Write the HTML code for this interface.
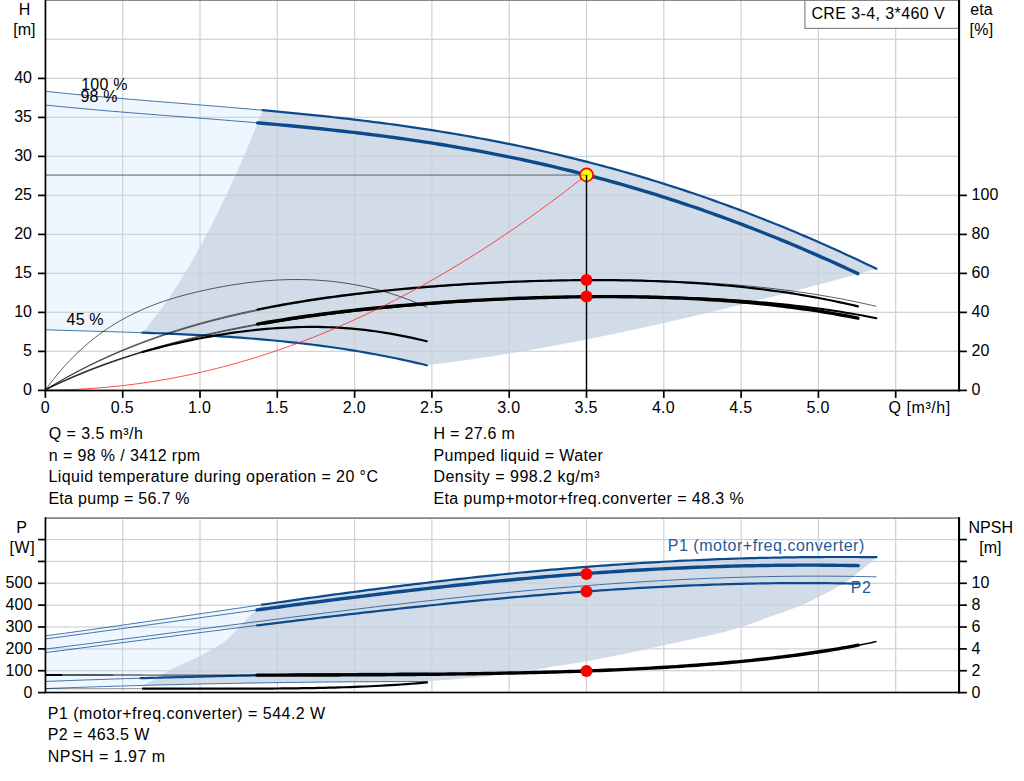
<!DOCTYPE html>
<html><head><meta charset="utf-8"><title>Pump curve</title>
<style>
html,body{margin:0;padding:0;background:#fff;}
body{width:1024px;height:781px;overflow:hidden;font-family:"Liberation Sans",sans-serif;}
svg{display:block;}
svg text{font-family:"Liberation Sans",sans-serif;}
</style></head><body>
<svg width="1024" height="781" viewBox="0 0 1024 781">
<rect width="1024" height="781" fill="#fff"/>
<path d="M45 91.26 L50.18 91.81 L55.37 92.35 L60.55 92.88 L65.73 93.41 L70.92 93.92 L76.1 94.42 L81.28 94.92 L86.47 95.4 L91.65 95.88 L96.83 96.35 L102.02 96.82 L107.2 97.28 L112.38 97.73 L117.57 98.18 L122.75 98.62 L127.93 99.06 L133.12 99.49 L138.3 99.93 L143.48 100.35 L148.67 100.78 L153.85 101.2 L159.03 101.62 L164.22 102.04 L169.4 102.46 L174.58 102.87 L179.77 103.29 L184.95 103.71 L190.13 104.12 L195.32 104.54 L200.5 104.96 L205.68 105.38 L210.87 105.8 L216.05 106.23 L221.23 106.65 L226.42 107.08 L231.6 107.52 L236.78 107.96 L241.97 108.4 L247.15 108.84 L252.33 109.29 L257.52 109.75 L262.7 110.21 L262.7 110.21 L258.55 120.61 L254.4 130.83 L250.26 140.84 L246.11 150.67 L241.96 160.3 L237.81 169.73 L233.66 178.97 L229.51 188.02 L225.37 196.87 L221.22 205.52 L217.07 213.99 L212.92 222.25 L208.77 230.32 L204.62 238.2 L200.48 245.87 L196.33 253.36 L192.18 260.64 L188.03 267.73 L183.88 274.63 L179.73 281.32 L175.59 287.83 L171.44 294.13 L167.29 300.23 L163.14 306.14 L158.99 311.85 L154.84 317.37 L150.7 322.68 L146.55 327.8 L142.4 332.71 L142.4 332.71 L136.99 332.53 L131.58 332.35 L126.17 332.18 L120.76 332.01 L115.34 331.85 L109.93 331.69 L104.52 331.53 L99.11 331.37 L93.7 331.22 L88.29 331.06 L82.88 330.91 L77.47 330.76 L72.06 330.6 L66.64 330.45 L61.23 330.29 L55.82 330.13 L50.41 329.96 L45 329.8 Z" fill="#eef6ff"/>
<path d="M262.7 110.21 L267.77 110.66 L272.84 111.13 L277.92 111.6 L282.99 112.07 L288.06 112.55 L293.13 113.04 L298.2 113.54 L303.28 114.04 L308.35 114.55 L313.42 115.07 L318.49 115.6 L323.56 116.13 L328.63 116.68 L333.71 117.24 L338.78 117.8 L343.85 118.37 L348.92 118.96 L353.99 119.55 L359.07 120.16 L364.14 120.77 L369.21 121.4 L374.28 122.04 L379.35 122.69 L384.43 123.35 L389.5 124.03 L394.57 124.71 L399.64 125.41 L404.71 126.12 L409.79 126.85 L414.86 127.59 L419.93 128.34 L425 129.1 L430.07 129.88 L435.14 130.68 L440.22 131.48 L445.29 132.3 L450.36 133.14 L455.43 133.99 L460.5 134.86 L465.58 135.74 L470.65 136.64 L475.72 137.55 L480.79 138.48 L485.86 139.42 L490.94 140.38 L496.01 141.35 L501.08 142.35 L506.15 143.36 L511.22 144.38 L516.3 145.43 L521.37 146.49 L526.44 147.56 L531.51 148.66 L536.58 149.77 L541.65 150.9 L546.73 152.05 L551.8 153.21 L556.87 154.4 L561.94 155.6 L567.01 156.82 L572.09 158.06 L577.16 159.31 L582.23 160.59 L587.3 161.89 L592.37 163.2 L597.45 164.53 L602.52 165.88 L607.59 167.25 L612.66 168.64 L617.73 170.05 L622.8 171.48 L627.88 172.93 L632.95 174.4 L638.02 175.89 L643.09 177.39 L648.16 178.92 L653.24 180.47 L658.31 182.04 L663.38 183.62 L668.45 185.23 L673.52 186.86 L678.6 188.51 L683.67 190.17 L688.74 191.86 L693.81 193.57 L698.88 195.3 L703.96 197.05 L709.03 198.82 L714.1 200.61 L719.17 202.42 L724.24 204.25 L729.31 206.11 L734.39 207.98 L739.46 209.87 L744.53 211.79 L749.6 213.72 L754.67 215.68 L759.75 217.66 L764.82 219.65 L769.89 221.67 L774.96 223.71 L780.03 225.77 L785.11 227.85 L790.18 229.95 L795.25 232.07 L800.32 234.21 L805.39 236.37 L810.47 238.56 L815.54 240.76 L820.61 242.98 L825.68 245.23 L830.75 247.49 L835.82 249.78 L840.9 252.08 L845.97 254.41 L851.04 256.75 L856.11 259.12 L861.18 261.5 L866.26 263.91 L871.33 266.33 L876.4 268.78 L876.4 268.78 L867.22 271.53 L858.04 274.04 L848.87 276.53 L839.69 279.01 L830.51 281.47 L821.33 283.92 L812.16 286.36 L802.98 288.78 L793.8 291.19 L784.62 293.57 L775.45 295.94 L766.27 298.29 L757.09 300.63 L747.91 302.94 L738.74 305.23 L729.56 307.5 L720.38 309.75 L711.2 311.97 L702.03 314.17 L692.85 316.35 L683.67 318.5 L674.49 320.62 L665.32 322.72 L656.14 324.78 L646.96 326.83 L637.78 328.84 L628.61 330.82 L619.43 332.77 L610.25 334.69 L601.07 336.57 L591.9 338.43 L582.72 340.24 L573.54 342.03 L564.36 343.78 L555.19 345.49 L546.01 347.17 L536.83 348.81 L527.65 350.41 L518.48 351.97 L509.3 353.49 L500.12 354.97 L490.94 356.41 L481.77 357.8 L472.59 359.15 L463.41 360.46 L454.23 361.73 L445.06 362.95 L435.88 364.12 L426.7 365.29 L426.7 365.29 L421.53 364.04 L416.36 362.83 L411.19 361.65 L406.02 360.5 L400.85 359.38 L395.69 358.29 L390.52 357.23 L385.35 356.21 L380.18 355.21 L375.01 354.24 L369.84 353.31 L364.67 352.39 L359.5 351.51 L354.33 350.66 L349.16 349.83 L343.99 349.03 L338.83 348.25 L333.66 347.5 L328.49 346.77 L323.32 346.07 L318.15 345.39 L312.98 344.74 L307.81 344.1 L302.64 343.49 L297.47 342.9 L292.3 342.33 L287.13 341.79 L281.97 341.26 L276.8 340.75 L271.63 340.26 L266.46 339.79 L261.29 339.34 L256.12 338.9 L250.95 338.49 L245.78 338.08 L240.61 337.7 L235.44 337.33 L230.27 336.97 L225.11 336.63 L219.94 336.3 L214.77 335.99 L209.6 335.69 L204.43 335.4 L199.26 335.12 L194.09 334.86 L188.92 334.6 L183.75 334.36 L178.58 334.12 L173.41 333.9 L168.25 333.68 L163.08 333.47 L157.91 333.27 L152.74 333.08 L147.57 332.89 L142.4 332.71 L142.4 332.71 L146.55 327.8 L150.7 322.68 L154.84 317.37 L158.99 311.85 L163.14 306.14 L167.29 300.23 L171.44 294.13 L175.59 287.83 L179.73 281.32 L183.88 274.63 L188.03 267.73 L192.18 260.64 L196.33 253.36 L200.48 245.87 L204.62 238.2 L208.77 230.32 L212.92 222.25 L217.07 213.99 L221.22 205.52 L225.37 196.87 L229.51 188.02 L233.66 178.97 L237.81 169.73 L241.96 160.3 L246.11 150.67 L250.26 140.84 L254.4 130.83 L258.55 120.61 L262.7 110.21 Z" fill="#d1dce8"/>
<rect x="46" y="350.7" width="912" height="1.2" fill="#ced1d4"/>
<rect x="46" y="311.7" width="912" height="1.2" fill="#ced1d4"/>
<rect x="46" y="272.7" width="912" height="1.2" fill="#ced1d4"/>
<rect x="46" y="233.7" width="912" height="1.2" fill="#ced1d4"/>
<rect x="46" y="194.7" width="912" height="1.2" fill="#ced1d4"/>
<rect x="46" y="155.7" width="912" height="1.2" fill="#ced1d4"/>
<rect x="46" y="116.7" width="912" height="1.2" fill="#ced1d4"/>
<rect x="46" y="77.7" width="912" height="1.2" fill="#ced1d4"/>
<rect x="46" y="38.7" width="912" height="1.2" fill="#ced1d4"/>
<rect x="122.1" y="1" width="1.2" height="388.5" fill="#ced1d4"/>
<rect x="199.4" y="1" width="1.2" height="388.5" fill="#ced1d4"/>
<rect x="276.7" y="1" width="1.2" height="388.5" fill="#ced1d4"/>
<rect x="354" y="1" width="1.2" height="388.5" fill="#ced1d4"/>
<rect x="431.3" y="1" width="1.2" height="388.5" fill="#ced1d4"/>
<rect x="508.6" y="1" width="1.2" height="388.5" fill="#ced1d4"/>
<rect x="585.9" y="1" width="1.2" height="388.5" fill="#ced1d4"/>
<rect x="663.2" y="1" width="1.2" height="388.5" fill="#ced1d4"/>
<rect x="740.5" y="1" width="1.2" height="388.5" fill="#ced1d4"/>
<rect x="817.8" y="1" width="1.2" height="388.5" fill="#ced1d4"/>
<rect x="895.1" y="1" width="1.2" height="388.5" fill="#ced1d4"/>
<rect x="45" y="0" width="915" height="1" fill="#8a8a8a"/>
<rect x="46" y="174.3" width="540" height="1.6" fill="#6f6f6f" opacity="0.7"/>
<rect x="585.8" y="175" width="1.4" height="215" fill="#000"/>
<path d="M45 91.26 L50.18 91.81 L55.37 92.35 L60.55 92.88 L65.73 93.41 L70.92 93.92 L76.1 94.42 L81.28 94.92 L86.47 95.4 L91.65 95.88 L96.83 96.35 L102.02 96.82 L107.2 97.28 L112.38 97.73 L117.57 98.18 L122.75 98.62 L127.93 99.06 L133.12 99.49 L138.3 99.93 L143.48 100.35 L148.67 100.78 L153.85 101.2 L159.03 101.62 L164.22 102.04 L169.4 102.46 L174.58 102.87 L179.77 103.29 L184.95 103.71 L190.13 104.12 L195.32 104.54 L200.5 104.96 L205.68 105.38 L210.87 105.8 L216.05 106.23 L221.23 106.65 L226.42 107.08 L231.6 107.52 L236.78 107.96 L241.97 108.4 L247.15 108.84 L252.33 109.29 L257.52 109.75 L262.7 110.21" fill="none" stroke="#0c4a8b" stroke-width="1" stroke-opacity="0.75"/>
<path d="M45 104.98 L50.19 105.52 L55.37 106.05 L60.56 106.57 L65.74 107.07 L70.93 107.57 L76.11 108.06 L81.3 108.54 L86.48 109.01 L91.67 109.48 L96.85 109.93 L102.04 110.38 L107.22 110.83 L112.41 111.27 L117.6 111.7 L122.78 112.12 L127.97 112.55 L133.15 112.96 L138.34 113.38 L143.52 113.79 L148.71 114.2 L153.89 114.6 L159.08 115.01 L164.26 115.41 L169.45 115.81 L174.63 116.21 L179.82 116.61 L185 117.01 L190.19 117.41 L195.38 117.82 L200.56 118.22 L205.75 118.62 L210.93 119.03 L216.12 119.44 L221.3 119.85 L226.49 120.27 L231.67 120.69 L236.86 121.11 L242.04 121.54 L247.23 121.97 L252.41 122.41 L257.6 122.85" fill="none" stroke="#0c4a8b" stroke-width="1" stroke-opacity="0.75"/>
<path d="M45 329.8 L50.41 329.96 L55.82 330.13 L61.23 330.29 L66.64 330.45 L72.06 330.6 L77.47 330.76 L82.88 330.91 L88.29 331.06 L93.7 331.22 L99.11 331.37 L104.52 331.53 L109.93 331.69 L115.34 331.85 L120.76 332.01 L126.17 332.18 L131.58 332.35 L136.99 332.53 L142.4 332.71" fill="none" stroke="#0c4a8b" stroke-width="1" stroke-opacity="0.75"/>
<path d="M262.7 110.21 L267.77 110.66 L272.84 111.13 L277.92 111.6 L282.99 112.07 L288.06 112.55 L293.13 113.04 L298.2 113.54 L303.28 114.04 L308.35 114.55 L313.42 115.07 L318.49 115.6 L323.56 116.13 L328.63 116.68 L333.71 117.24 L338.78 117.8 L343.85 118.37 L348.92 118.96 L353.99 119.55 L359.07 120.16 L364.14 120.77 L369.21 121.4 L374.28 122.04 L379.35 122.69 L384.43 123.35 L389.5 124.03 L394.57 124.71 L399.64 125.41 L404.71 126.12 L409.79 126.85 L414.86 127.59 L419.93 128.34 L425 129.1 L430.07 129.88 L435.14 130.68 L440.22 131.48 L445.29 132.3 L450.36 133.14 L455.43 133.99 L460.5 134.86 L465.58 135.74 L470.65 136.64 L475.72 137.55 L480.79 138.48 L485.86 139.42 L490.94 140.38 L496.01 141.35 L501.08 142.35 L506.15 143.36 L511.22 144.38 L516.3 145.43 L521.37 146.49 L526.44 147.56 L531.51 148.66 L536.58 149.77 L541.65 150.9 L546.73 152.05 L551.8 153.21 L556.87 154.4 L561.94 155.6 L567.01 156.82 L572.09 158.06 L577.16 159.31 L582.23 160.59 L587.3 161.89 L592.37 163.2 L597.45 164.53 L602.52 165.88 L607.59 167.25 L612.66 168.64 L617.73 170.05 L622.8 171.48 L627.88 172.93 L632.95 174.4 L638.02 175.89 L643.09 177.39 L648.16 178.92 L653.24 180.47 L658.31 182.04 L663.38 183.62 L668.45 185.23 L673.52 186.86 L678.6 188.51 L683.67 190.17 L688.74 191.86 L693.81 193.57 L698.88 195.3 L703.96 197.05 L709.03 198.82 L714.1 200.61 L719.17 202.42 L724.24 204.25 L729.31 206.11 L734.39 207.98 L739.46 209.87 L744.53 211.79 L749.6 213.72 L754.67 215.68 L759.75 217.66 L764.82 219.65 L769.89 221.67 L774.96 223.71 L780.03 225.77 L785.11 227.85 L790.18 229.95 L795.25 232.07 L800.32 234.21 L805.39 236.37 L810.47 238.56 L815.54 240.76 L820.61 242.98 L825.68 245.23 L830.75 247.49 L835.82 249.78 L840.9 252.08 L845.97 254.41 L851.04 256.75 L856.11 259.12 L861.18 261.5 L866.26 263.91 L871.33 266.33 L876.4 268.78" fill="none" stroke="#0c4a8b" stroke-width="2.2" stroke-linecap="round"/>
<path d="M257.6 122.85 L262.64 123.29 L267.69 123.73 L272.73 124.18 L277.78 124.63 L282.82 125.09 L287.87 125.56 L292.91 126.03 L297.96 126.52 L303 127.01 L308.05 127.51 L313.09 128.02 L318.13 128.53 L323.18 129.06 L328.22 129.59 L333.27 130.14 L338.31 130.69 L343.36 131.26 L348.4 131.83 L353.45 132.42 L358.49 133.01 L363.54 133.62 L368.58 134.24 L373.62 134.87 L378.67 135.51 L383.71 136.17 L388.76 136.83 L393.8 137.51 L398.85 138.2 L403.89 138.91 L408.94 139.63 L413.98 140.36 L419.03 141.11 L424.07 141.87 L429.11 142.64 L434.16 143.43 L439.2 144.23 L444.25 145.05 L449.29 145.88 L454.34 146.73 L459.38 147.59 L464.43 148.47 L469.47 149.36 L474.52 150.27 L479.56 151.2 L484.6 152.14 L489.65 153.1 L494.69 154.07 L499.74 155.06 L504.78 156.07 L509.83 157.1 L514.87 158.14 L519.92 159.2 L524.96 160.27 L530.01 161.37 L535.05 162.48 L540.09 163.61 L545.14 164.76 L550.18 165.92 L555.23 167.11 L560.27 168.31 L565.32 169.53 L570.36 170.77 L575.41 172.02 L580.45 173.3 L585.49 174.59 L590.54 175.91 L595.58 177.24 L600.63 178.59 L605.67 179.96 L610.72 181.35 L615.76 182.76 L620.81 184.19 L625.85 185.63 L630.9 187.1 L635.94 188.59 L640.98 190.09 L646.03 191.62 L651.07 193.17 L656.12 194.73 L661.16 196.32 L666.21 197.92 L671.25 199.55 L676.3 201.19 L681.34 202.86 L686.39 204.54 L691.43 206.25 L696.47 207.97 L701.52 209.71 L706.56 211.48 L711.61 213.26 L716.65 215.07 L721.7 216.89 L726.74 218.74 L731.79 220.6 L736.83 222.49 L741.88 224.39 L746.92 226.32 L751.96 228.26 L757.01 230.23 L762.05 232.21 L767.1 234.22 L772.14 236.24 L777.19 238.29 L782.23 240.35 L787.28 242.44 L792.32 244.54 L797.37 246.66 L802.41 248.81 L807.45 250.97 L812.5 253.15 L817.54 255.35 L822.59 257.57 L827.63 259.81 L832.68 262.07 L837.72 264.35 L842.77 266.65 L847.81 268.96 L852.86 271.3 L857.9 273.65" fill="none" stroke="#0c4a8b" stroke-width="3.4" stroke-linecap="round"/>
<path d="M142.4 332.71 L147.57 332.89 L152.74 333.08 L157.91 333.27 L163.08 333.47 L168.25 333.68 L173.41 333.9 L178.58 334.12 L183.75 334.36 L188.92 334.6 L194.09 334.86 L199.26 335.12 L204.43 335.4 L209.6 335.69 L214.77 335.99 L219.94 336.3 L225.11 336.63 L230.27 336.97 L235.44 337.33 L240.61 337.7 L245.78 338.08 L250.95 338.49 L256.12 338.9 L261.29 339.34 L266.46 339.79 L271.63 340.26 L276.8 340.75 L281.97 341.26 L287.13 341.79 L292.3 342.33 L297.47 342.9 L302.64 343.49 L307.81 344.1 L312.98 344.74 L318.15 345.39 L323.32 346.07 L328.49 346.77 L333.66 347.5 L338.83 348.25 L343.99 349.03 L349.16 349.83 L354.33 350.66 L359.5 351.51 L364.67 352.39 L369.84 353.31 L375.01 354.24 L380.18 355.21 L385.35 356.21 L390.52 357.23 L395.69 358.29 L400.85 359.38 L406.02 360.5 L411.19 361.65 L416.36 362.83 L421.53 364.04 L426.7 365.29" fill="none" stroke="#0c4a8b" stroke-width="2.2" stroke-linecap="round"/>
<path d="M45.4 389.84 L49.25 384.67 L53.1 379.71 L56.95 374.96 L60.81 370.4 L64.66 366.03 L68.51 361.85 L72.36 357.85 L76.21 354.02 L80.06 350.36 L83.92 346.86 L87.77 343.51 L91.62 340.32 L95.47 337.27 L99.32 334.36 L103.17 331.58 L107.02 328.93 L110.88 326.4 L114.73 323.98 L118.58 321.67 L122.43 319.47 L126.28 317.37 L130.13 315.36 L133.98 313.44 L137.84 311.61 L141.69 309.86 L145.54 308.19 L149.39 306.6 L153.24 305.09 L157.09 303.64 L160.95 302.26 L164.8 300.95 L168.65 299.69 L172.5 298.49 L176.35 297.35 L180.2 296.25 L184.05 295.2 L187.91 294.19 L191.76 293.23 L195.61 292.29 L199.46 291.4 L203.31 290.53 L207.16 289.68 L211.02 288.87 L214.87 288.09 L218.72 287.34 L222.57 286.62 L226.42 285.93 L230.27 285.27 L234.12 284.65 L237.98 284.06 L241.83 283.5 L245.68 282.98 L249.53 282.49 L253.38 282.03 L257.23 281.62 L261.08 281.24 L264.94 280.89 L268.79 280.59 L272.64 280.32 L276.49 280.09 L280.34 279.9 L284.19 279.75 L288.05 279.64 L291.9 279.57 L295.75 279.54 L299.6 279.55 L303.45 279.61 L307.3 279.71 L311.15 279.85 L315.01 280.04 L318.86 280.27 L322.71 280.55 L326.56 280.87 L330.41 281.24 L334.26 281.65 L338.12 282.12 L341.97 282.63 L345.82 283.19 L349.67 283.8 L353.52 284.46 L357.37 285.16 L361.22 285.92 L365.08 286.73 L368.93 287.6 L372.78 288.51 L376.63 289.48 L380.48 290.5 L384.33 291.57 L388.18 292.7 L392.04 293.89 L395.89 295.13 L399.74 296.42 L403.59 297.78 L407.44 299.19 L411.29 300.65 L415.15 302.18 L419 303.77 L422.85 305.41 L426.7 307.11" fill="none" stroke="#000" stroke-width="0.9" stroke-opacity="0.7"/>
<path d="M45 390.03 L50.19 386.85 L55.37 383.74 L60.56 380.71 L65.74 377.76 L70.93 374.89 L76.11 372.09 L81.3 369.36 L86.48 366.71 L91.67 364.12 L96.85 361.6 L102.04 359.15 L107.22 356.76 L112.41 354.43 L117.6 352.17 L122.78 349.96 L127.97 347.82 L133.15 345.73 L138.34 343.7 L143.52 341.72 L148.71 339.79 L153.89 337.92 L159.08 336.1 L164.26 334.32 L169.45 332.6 L174.63 330.92 L179.82 329.28 L185 327.69 L190.19 326.14 L195.38 324.64 L200.56 323.18 L205.75 321.75 L210.93 320.37 L216.12 319.02 L221.3 317.71 L226.49 316.44 L231.67 315.2 L236.86 313.99 L242.04 312.82 L247.23 311.68 L252.41 310.57 L257.6 309.5" fill="none" stroke="#000" stroke-width="0.9" stroke-opacity="0.7"/>
<path d="M45 390.03 L50.04 387 L55.08 384.04 L60.12 381.16 L65.16 378.34 L70.19 375.6 L75.23 372.92 L80.27 370.3 L85.31 367.76 L90.35 365.27 L95.39 362.85 L100.43 360.48 L105.47 358.18 L110.5 355.93 L115.54 353.74 L120.58 351.61 L125.62 349.53 L130.66 347.5 L135.7 345.52 L140.74 343.59 L145.78 341.71 L150.81 339.88 L155.85 338.1 L160.89 336.36 L165.93 334.66 L170.97 333.01 L176.01 331.4 L181.05 329.84 L186.09 328.31 L191.12 326.82 L196.16 325.38 L201.2 323.97 L206.24 322.59 L211.28 321.26 L216.32 319.95 L221.36 318.68 L226.4 317.45 L231.44 316.24 L236.47 315.07 L241.51 313.93 L246.55 312.82 L251.59 311.73 L256.63 310.68 L261.67 309.65 L266.71 308.65 L271.75 307.67 L276.78 306.72 L281.82 305.8 L286.86 304.9 L291.9 304.02 L296.94 303.17 L301.98 302.34 L307.02 301.53 L312.06 300.74 L317.09 299.98 L322.13 299.23 L327.17 298.5 L332.21 297.8 L337.25 297.11 L342.29 296.44 L347.33 295.78 L352.37 295.15 L357.4 294.53 L362.44 293.93 L367.48 293.34 L372.52 292.77 L377.56 292.22 L382.6 291.68 L387.64 291.16 L392.68 290.65 L397.72 290.15 L402.75 289.67 L407.79 289.2 L412.83 288.75 L417.87 288.31 L422.91 287.88 L427.95 287.46 L432.99 287.06 L438.03 286.67 L443.06 286.29 L448.1 285.92 L453.14 285.57 L458.18 285.22 L463.22 284.89 L468.26 284.57 L473.3 284.26 L478.34 283.96 L483.37 283.68 L488.41 283.4 L493.45 283.13 L498.49 282.88 L503.53 282.64 L508.57 282.41 L513.61 282.18 L518.65 281.97 L523.68 281.77 L528.72 281.58 L533.76 281.41 L538.8 281.24 L543.84 281.08 L548.88 280.94 L553.92 280.81 L558.96 280.68 L564 280.57 L569.03 280.47 L574.07 280.38 L579.11 280.31 L584.15 280.24 L589.19 280.19 L594.23 280.15 L599.27 280.12 L604.31 280.11 L609.34 280.1 L614.38 280.11 L619.42 280.14 L624.46 280.17 L629.5 280.22 L634.54 280.29 L639.58 280.37 L644.62 280.46 L649.65 280.57 L654.69 280.69 L659.73 280.83 L664.77 280.98 L669.81 281.15 L674.85 281.33 L679.89 281.53 L684.93 281.75 L689.96 281.98 L695 282.23 L700.04 282.5 L705.08 282.79 L710.12 283.09 L715.16 283.41 L720.2 283.76 L725.24 284.12 L730.28 284.5 L735.31 284.91 L740.35 285.33 L745.39 285.77 L750.43 286.24 L755.47 286.73 L760.51 287.24 L765.55 287.78 L770.59 288.34 L775.62 288.92 L780.66 289.52 L785.7 290.16 L790.74 290.81 L795.78 291.49 L800.82 292.2 L805.86 292.94 L810.9 293.7 L815.93 294.49 L820.97 295.31 L826.01 296.16 L831.05 297.04 L836.09 297.95 L841.13 298.89 L846.17 299.86 L851.21 300.86 L856.24 301.9 L861.28 302.97 L866.32 304.07 L871.36 305.2 L876.4 306.37" fill="none" stroke="#000" stroke-width="0.9" stroke-opacity="0.7"/>
<path d="M45 390.01 L50.19 387.5 L55.37 385.04 L60.56 382.64 L65.74 380.3 L70.93 378.01 L76.11 375.78 L81.3 373.6 L86.48 371.47 L91.67 369.4 L96.85 367.37 L102.04 365.4 L107.22 363.47 L112.41 361.59 L117.6 359.76 L122.78 357.96 L127.97 356.22 L133.15 354.51 L138.34 352.85 L143.52 351.23 L148.71 349.64 L153.89 348.1 L159.08 346.59 L164.26 345.12 L169.45 343.69 L174.63 342.29 L179.82 340.93 L185 339.6 L190.19 338.3 L195.38 337.03 L200.56 335.8 L205.75 334.59 L210.93 333.42 L216.12 332.27 L221.3 331.15 L226.49 330.06 L231.67 329 L236.86 327.96 L242.04 326.95 L247.23 325.96 L252.41 325 L257.6 324.06" fill="none" stroke="#000" stroke-width="0.9" stroke-opacity="0.7"/>
<path d="M45 390.01 L50.18 387.55 L55.37 385.14 L60.55 382.79 L65.73 380.5 L70.92 378.26 L76.1 376.07 L81.28 373.94 L86.47 371.85 L91.65 369.81 L96.83 367.82 L102.02 365.88 L107.2 363.99 L112.38 362.14 L117.57 360.33 L122.75 358.56 L127.93 356.84 L133.12 355.16 L138.3 353.52 L143.48 351.92 L148.67 350.35 L153.85 348.83 L159.03 347.33 L164.22 345.88 L169.4 344.46 L174.58 343.07 L179.77 341.72 L184.95 340.4 L190.13 339.11 L195.32 337.86 L200.5 336.63 L205.68 335.43 L210.87 334.26 L216.05 333.12 L221.23 332.01 L226.42 330.92 L231.6 329.86 L236.78 328.83 L241.97 327.82 L247.15 326.83 L252.33 325.87 L257.52 324.93 L262.7 324.01" fill="none" stroke="#000" stroke-width="0.9" stroke-opacity="0.7"/>
<path d="M45 390.03 L50.41 387.21 L55.82 384.48 L61.23 381.86 L66.64 379.35 L72.06 376.92 L77.47 374.58 L82.88 372.33 L88.29 370.15 L93.7 368.06 L99.11 366.02 L104.52 364.07 L109.93 362.18 L115.34 360.35 L120.76 358.57 L126.17 356.86 L131.58 355.2 L136.99 353.59 L142.4 352.04" fill="none" stroke="#000" stroke-width="0.9" stroke-opacity="0.7"/>
<path d="M257.6 309.5 L262.64 308.48 L267.69 307.48 L272.73 306.52 L277.78 305.58 L282.82 304.66 L287.87 303.77 L292.91 302.9 L297.96 302.06 L303 301.24 L308.05 300.44 L313.09 299.67 L318.13 298.91 L323.18 298.17 L328.22 297.46 L333.27 296.76 L338.31 296.09 L343.36 295.43 L348.4 294.79 L353.45 294.16 L358.49 293.56 L363.54 292.97 L368.58 292.4 L373.62 291.84 L378.67 291.3 L383.71 290.77 L388.76 290.26 L393.8 289.77 L398.85 289.28 L403.89 288.82 L408.94 288.36 L413.98 287.92 L419.03 287.5 L424.07 287.08 L429.11 286.68 L434.16 286.29 L439.2 285.92 L444.25 285.55 L449.29 285.2 L454.34 284.86 L459.38 284.54 L464.43 284.22 L469.47 283.92 L474.52 283.62 L479.56 283.34 L484.6 283.07 L489.65 282.82 L494.69 282.57 L499.74 282.34 L504.78 282.11 L509.83 281.9 L514.87 281.7 L519.92 281.51 L524.96 281.33 L530.01 281.17 L535.05 281.01 L540.09 280.87 L545.14 280.74 L550.18 280.62 L555.23 280.51 L560.27 280.42 L565.32 280.34 L570.36 280.27 L575.41 280.21 L580.45 280.16 L585.49 280.13 L590.54 280.11 L595.58 280.1 L600.63 280.11 L605.67 280.13 L610.72 280.17 L615.76 280.22 L620.81 280.28 L625.85 280.36 L630.9 280.45 L635.94 280.56 L640.98 280.68 L646.03 280.82 L651.07 280.98 L656.12 281.15 L661.16 281.34 L666.21 281.55 L671.25 281.77 L676.3 282.01 L681.34 282.27 L686.39 282.55 L691.43 282.85 L696.47 283.17 L701.52 283.5 L706.56 283.86 L711.61 284.24 L716.65 284.64 L721.7 285.06 L726.74 285.5 L731.79 285.96 L736.83 286.45 L741.88 286.96 L746.92 287.49 L751.96 288.05 L757.01 288.64 L762.05 289.25 L767.1 289.88 L772.14 290.54 L777.19 291.23 L782.23 291.95 L787.28 292.69 L792.32 293.46 L797.37 294.26 L802.41 295.09 L807.45 295.96 L812.5 296.85 L817.54 297.77 L822.59 298.73 L827.63 299.72 L832.68 300.74 L837.72 301.8 L842.77 302.89 L847.81 304.01 L852.86 305.18 L857.9 306.37" fill="none" stroke="#000" stroke-width="2.2" stroke-linecap="round"/>
<path d="M262.7 324.01 L267.77 323.14 L272.84 322.28 L277.92 321.45 L282.99 320.64 L288.06 319.84 L293.13 319.06 L298.2 318.31 L303.28 317.57 L308.35 316.84 L313.42 316.14 L318.49 315.45 L323.56 314.78 L328.63 314.12 L333.71 313.48 L338.78 312.86 L343.85 312.25 L348.92 311.65 L353.99 311.07 L359.07 310.5 L364.14 309.95 L369.21 309.41 L374.28 308.89 L379.35 308.37 L384.43 307.87 L389.5 307.39 L394.57 306.91 L399.64 306.45 L404.71 306 L409.79 305.56 L414.86 305.13 L419.93 304.72 L425 304.31 L430.07 303.92 L435.14 303.54 L440.22 303.17 L445.29 302.81 L450.36 302.46 L455.43 302.12 L460.5 301.79 L465.58 301.47 L470.65 301.16 L475.72 300.86 L480.79 300.57 L485.86 300.29 L490.94 300.03 L496.01 299.77 L501.08 299.52 L506.15 299.28 L511.22 299.05 L516.3 298.83 L521.37 298.63 L526.44 298.43 L531.51 298.24 L536.58 298.06 L541.65 297.89 L546.73 297.74 L551.8 297.59 L556.87 297.45 L561.94 297.32 L567.01 297.21 L572.09 297.1 L577.16 297.01 L582.23 296.92 L587.3 296.85 L592.37 296.78 L597.45 296.73 L602.52 296.69 L607.59 296.66 L612.66 296.64 L617.73 296.64 L622.8 296.64 L627.88 296.66 L632.95 296.69 L638.02 296.73 L643.09 296.79 L648.16 296.86 L653.24 296.94 L658.31 297.03 L663.38 297.14 L668.45 297.26 L673.52 297.4 L678.6 297.55 L683.67 297.71 L688.74 297.89 L693.81 298.09 L698.88 298.3 L703.96 298.52 L709.03 298.76 L714.1 299.02 L719.17 299.3 L724.24 299.59 L729.31 299.9 L734.39 300.23 L739.46 300.57 L744.53 300.93 L749.6 301.31 L754.67 301.72 L759.75 302.14 L764.82 302.58 L769.89 303.04 L774.96 303.52 L780.03 304.02 L785.11 304.54 L790.18 305.09 L795.25 305.65 L800.32 306.24 L805.39 306.86 L810.47 307.49 L815.54 308.16 L820.61 308.84 L825.68 309.55 L830.75 310.29 L835.82 311.05 L840.9 311.84 L845.97 312.66 L851.04 313.5 L856.11 314.37 L861.18 315.27 L866.26 316.21 L871.33 317.17 L876.4 318.16" fill="none" stroke="#000" stroke-width="2.0" stroke-linecap="round"/>
<path d="M257.6 324.06 L262.64 323.17 L267.69 322.3 L272.73 321.45 L277.78 320.62 L282.82 319.81 L287.87 319.03 L292.91 318.26 L297.96 317.5 L303 316.77 L308.05 316.05 L313.09 315.36 L318.13 314.68 L323.18 314.01 L328.22 313.36 L333.27 312.73 L338.31 312.11 L343.36 311.51 L348.4 310.92 L353.45 310.35 L358.49 309.79 L363.54 309.25 L368.58 308.72 L373.62 308.2 L378.67 307.7 L383.71 307.21 L388.76 306.73 L393.8 306.26 L398.85 305.81 L403.89 305.37 L408.94 304.94 L413.98 304.52 L419.03 304.12 L424.07 303.72 L429.11 303.34 L434.16 302.97 L439.2 302.6 L444.25 302.25 L449.29 301.92 L454.34 301.59 L459.38 301.27 L464.43 300.96 L469.47 300.67 L474.52 300.38 L479.56 300.1 L484.6 299.84 L489.65 299.58 L494.69 299.34 L499.74 299.1 L504.78 298.88 L509.83 298.67 L514.87 298.46 L519.92 298.27 L524.96 298.09 L530.01 297.91 L535.05 297.75 L540.09 297.6 L545.14 297.46 L550.18 297.33 L555.23 297.21 L560.27 297.1 L565.32 297.01 L570.36 296.92 L575.41 296.84 L580.45 296.78 L585.49 296.73 L590.54 296.69 L595.58 296.66 L600.63 296.64 L605.67 296.64 L610.72 296.65 L615.76 296.67 L620.81 296.7 L625.85 296.75 L630.9 296.8 L635.94 296.88 L640.98 296.96 L646.03 297.06 L651.07 297.18 L656.12 297.3 L661.16 297.45 L666.21 297.61 L671.25 297.78 L676.3 297.97 L681.34 298.17 L686.39 298.39 L691.43 298.63 L696.47 298.88 L701.52 299.15 L706.56 299.44 L711.61 299.74 L716.65 300.07 L721.7 300.41 L726.74 300.77 L731.79 301.15 L736.83 301.55 L741.88 301.97 L746.92 302.41 L751.96 302.87 L757.01 303.35 L762.05 303.85 L767.1 304.38 L772.14 304.92 L777.19 305.49 L782.23 306.09 L787.28 306.71 L792.32 307.35 L797.37 308.02 L802.41 308.71 L807.45 309.43 L812.5 310.17 L817.54 310.94 L822.59 311.74 L827.63 312.57 L832.68 313.43 L837.72 314.31 L842.77 315.23 L847.81 316.17 L852.86 317.15 L857.9 318.16" fill="none" stroke="#000" stroke-width="3.4" stroke-linecap="round"/>
<path d="M142.4 352.04 L147.57 350.6 L152.74 349.2 L157.91 347.85 L163.08 346.55 L168.25 345.27 L173.41 344.05 L178.58 342.86 L183.75 341.71 L188.92 340.61 L194.09 339.54 L199.26 338.51 L204.43 337.53 L209.6 336.58 L214.77 335.67 L219.94 334.8 L225.11 333.98 L230.27 333.19 L235.44 332.45 L240.61 331.75 L245.78 331.1 L250.95 330.49 L256.12 329.92 L261.29 329.4 L266.46 328.93 L271.63 328.51 L276.8 328.13 L281.97 327.8 L287.13 327.53 L292.3 327.3 L297.47 327.13 L302.64 327.01 L307.81 326.94 L312.98 326.93 L318.15 326.97 L323.32 327.07 L328.49 327.23 L333.66 327.44 L338.83 327.71 L343.99 328.04 L349.16 328.42 L354.33 328.87 L359.5 329.38 L364.67 329.94 L369.84 330.57 L375.01 331.25 L380.18 331.99 L385.35 332.8 L390.52 333.66 L395.69 334.57 L400.85 335.55 L406.02 336.58 L411.19 337.67 L416.36 338.81 L421.53 340.01 L426.7 341.25" fill="none" stroke="#000" stroke-width="2.2" stroke-linecap="round"/>
<path d="M45.4 390 L52.25 389.97 L59.09 389.86 L65.94 389.69 L72.78 389.45 L79.63 389.14 L86.47 388.76 L93.32 388.31 L100.16 387.8 L107.01 387.21 L113.86 386.56 L120.7 385.83 L127.55 385.04 L134.39 384.18 L141.24 383.25 L148.08 382.25 L154.93 381.18 L161.77 380.04 L168.62 378.84 L175.47 377.56 L182.31 376.22 L189.16 374.81 L196 373.33 L202.85 371.78 L209.69 370.16 L216.54 368.47 L223.38 366.71 L230.23 364.89 L237.08 362.99 L243.92 361.03 L250.77 359 L257.61 356.89 L264.46 354.72 L271.3 352.48 L278.15 350.18 L284.99 347.8 L291.84 345.35 L298.69 342.84 L305.53 340.25 L312.38 337.6 L319.22 334.88 L326.07 332.09 L332.91 329.23 L339.76 326.3 L346.61 323.31 L353.45 320.24 L360.3 317.1 L367.14 313.9 L373.99 310.63 L380.83 307.29 L387.68 303.88 L394.52 300.4 L401.37 296.85 L408.22 293.23 L415.06 289.54 L421.91 285.79 L428.75 281.97 L435.6 278.07 L442.44 274.11 L449.29 270.08 L456.13 265.98 L462.98 261.81 L469.83 257.58 L476.67 253.27 L483.52 248.89 L490.36 244.45 L497.21 239.94 L504.05 235.36 L510.9 230.71 L517.74 225.99 L524.59 221.2 L531.44 216.34 L538.28 211.41 L545.13 206.42 L551.97 201.35 L558.82 196.22 L565.66 191.02 L572.51 185.75 L579.35 180.41 L586.2 175" fill="none" stroke="#ff2020" stroke-width="1" stroke-opacity="0.8"/>
<rect x="804.9" y="0.4" width="154" height="28" fill="#fff" stroke="#858585" stroke-width="1.2"/>
<rect x="44.6" y="0" width="1.7" height="391" fill="#000"/>
<rect x="958" y="0" width="2.1" height="391.4" fill="#000"/>
<rect x="44.6" y="389.6" width="915.5" height="1.8" fill="#000"/>
<rect x="38" y="389.55" width="7" height="1.7" fill="#000"/>
<rect x="38" y="350.55" width="7" height="1.7" fill="#000"/>
<rect x="38" y="311.55" width="7" height="1.7" fill="#000"/>
<rect x="38" y="272.55" width="7" height="1.7" fill="#000"/>
<rect x="38" y="233.55" width="7" height="1.7" fill="#000"/>
<rect x="38" y="194.55" width="7" height="1.7" fill="#000"/>
<rect x="38" y="155.55" width="7" height="1.7" fill="#000"/>
<rect x="38" y="116.55" width="7" height="1.7" fill="#000"/>
<rect x="38" y="77.55" width="7" height="1.7" fill="#000"/>
<rect x="960" y="389.55" width="6.9" height="1.7" fill="#000"/>
<rect x="960" y="350.55" width="6.9" height="1.7" fill="#000"/>
<rect x="960" y="311.55" width="6.9" height="1.7" fill="#000"/>
<rect x="960" y="272.55" width="6.9" height="1.7" fill="#000"/>
<rect x="960" y="233.55" width="6.9" height="1.7" fill="#000"/>
<rect x="960" y="194.55" width="6.9" height="1.7" fill="#000"/>
<rect x="44.55" y="390" width="1.7" height="7.9" fill="#000"/>
<rect x="121.85" y="390" width="1.7" height="7.9" fill="#000"/>
<rect x="199.15" y="390" width="1.7" height="7.9" fill="#000"/>
<rect x="276.45" y="390" width="1.7" height="7.9" fill="#000"/>
<rect x="353.75" y="390" width="1.7" height="7.9" fill="#000"/>
<rect x="431.05" y="390" width="1.7" height="7.9" fill="#000"/>
<rect x="508.35" y="390" width="1.7" height="7.9" fill="#000"/>
<rect x="585.65" y="390" width="1.7" height="7.9" fill="#000"/>
<rect x="662.95" y="390" width="1.7" height="7.9" fill="#000"/>
<rect x="740.25" y="390" width="1.7" height="7.9" fill="#000"/>
<rect x="817.55" y="390" width="1.7" height="7.9" fill="#000"/>
<rect x="894.85" y="390" width="1.7" height="7.9" fill="#000"/>
<circle cx="586.5" cy="280" r="6" fill="#ff0000"/>
<circle cx="586.5" cy="296.6" r="6" fill="#ff0000"/>
<circle cx="586.6" cy="174.9" r="6.5" fill="#ffff00" stroke="#ff0000" stroke-width="1.7"/>
<rect x="580.5" y="174.3" width="6" height="1.6" fill="#6f6f6f" opacity="0.4"/>
<rect x="585.8" y="175" width="1.4" height="8" fill="#000"/>
<path d="M45 635.89 L50.17 635.2 L55.34 634.51 L60.51 633.81 L65.69 633.11 L70.86 632.4 L76.03 631.68 L81.2 630.97 L86.37 630.25 L91.54 629.52 L96.71 628.79 L101.89 628.06 L107.06 627.33 L112.23 626.59 L117.4 625.85 L122.57 625.11 L127.74 624.36 L132.91 623.61 L138.09 622.86 L143.26 622.11 L148.43 621.36 L153.6 620.6 L158.77 619.85 L163.94 619.09 L169.11 618.33 L174.29 617.57 L179.46 616.81 L184.63 616.05 L189.8 615.29 L194.97 614.53 L200.14 613.77 L205.31 613.01 L210.49 612.25 L215.66 611.49 L220.83 610.73 L226 609.98 L231.17 609.22 L236.34 608.46 L241.51 607.71 L246.69 606.96 L251.86 606.21 L257.03 605.46 L262.2 604.71 L262.2 604.71 L259.14 607.14 L256.07 609.97 L253.01 612.94 L249.94 616 L246.88 619.1 L243.82 622.19 L240.75 625.29 L237.69 628.54 L234.62 631.83 L231.56 635.02 L228.49 638.01 L225.43 640.66 L222.37 642.94 L219.3 644.98 L216.24 646.87 L213.17 648.7 L210.11 650.5 L207.05 652.25 L203.98 653.93 L200.92 655.54 L197.85 657.05 L194.79 658.46 L191.73 659.81 L188.66 661.15 L185.6 662.53 L182.53 663.93 L179.47 665.32 L176.41 666.72 L173.34 668.17 L170.28 669.69 L167.21 671.32 L164.15 673.08 L161.08 674.92 L158.02 676.78 L154.96 678.63 L151.89 680.44 L148.83 682.26 L145.76 684.08 L142.7 685.43 L142.7 685.43 L137.27 685.58 L131.84 685.74 L126.42 685.89 L120.99 686.05 L115.56 686.22 L110.13 686.38 L104.71 686.55 L99.28 686.72 L93.85 686.9 L88.42 687.08 L82.99 687.26 L77.57 687.44 L72.14 687.63 L66.71 687.82 L61.28 688.01 L55.86 688.21 L50.43 688.41 L45 688.61 Z" fill="#eef6ff"/>
<path d="M262.2 604.71 L267.28 603.98 L272.35 603.25 L277.43 602.52 L282.51 601.8 L287.58 601.08 L292.66 600.36 L297.74 599.64 L302.81 598.93 L307.89 598.21 L312.97 597.51 L318.05 596.8 L323.12 596.1 L328.2 595.4 L333.28 594.71 L338.35 594.02 L343.43 593.33 L348.51 592.65 L353.58 591.97 L358.66 591.3 L363.74 590.63 L368.81 589.96 L373.89 589.3 L378.97 588.65 L384.04 588 L389.12 587.35 L394.2 586.71 L399.28 586.07 L404.35 585.44 L409.43 584.81 L414.51 584.19 L419.58 583.58 L424.66 582.97 L429.74 582.36 L434.81 581.76 L439.89 581.17 L444.97 580.58 L450.04 580 L455.12 579.43 L460.2 578.86 L465.27 578.29 L470.35 577.74 L475.43 577.19 L480.5 576.64 L485.58 576.1 L490.66 575.57 L495.74 575.05 L500.81 574.53 L505.89 574.02 L510.97 573.51 L516.04 573.01 L521.12 572.52 L526.2 572.04 L531.27 571.56 L536.35 571.09 L541.43 570.63 L546.5 570.17 L551.58 569.72 L556.66 569.28 L561.73 568.85 L566.81 568.42 L571.89 568 L576.97 567.59 L582.04 567.19 L587.12 566.79 L592.2 566.4 L597.27 566.02 L602.35 565.65 L607.43 565.28 L612.5 564.92 L617.58 564.57 L622.66 564.23 L627.73 563.89 L632.81 563.56 L637.89 563.24 L642.96 562.93 L648.04 562.63 L653.12 562.33 L658.2 562.04 L663.27 561.76 L668.35 561.49 L673.43 561.23 L678.5 560.97 L683.58 560.72 L688.66 560.48 L693.73 560.25 L698.81 560.03 L703.89 559.81 L708.96 559.6 L714.04 559.4 L719.12 559.21 L724.19 559.02 L729.27 558.85 L734.35 558.68 L739.42 558.52 L744.5 558.37 L749.58 558.22 L754.66 558.09 L759.73 557.96 L764.81 557.84 L769.89 557.73 L774.96 557.62 L780.04 557.53 L785.12 557.44 L790.19 557.36 L795.27 557.28 L800.35 557.22 L805.42 557.16 L810.5 557.11 L815.58 557.07 L820.65 557.04 L825.73 557.01 L830.81 556.99 L835.89 556.98 L840.96 556.98 L846.04 556.98 L851.12 556.99 L856.19 557.01 L861.27 557.04 L866.35 557.07 L871.42 557.11 L876.5 557.16 L876.5 557.16 L871.45 561.98 L866.4 565.94 L861.35 569.92 L856.3 574.07 L851.25 578.2 L846.2 581.9 L841.15 585.07 L836.1 587.97 L831.04 590.68 L825.99 593.27 L820.94 595.8 L815.89 598.35 L810.84 600.84 L805.79 603.23 L800.74 605.43 L795.69 607.47 L790.64 609.39 L785.59 611.23 L780.54 613.01 L775.49 614.77 L770.44 616.53 L765.39 618.33 L760.34 620.2 L755.29 622.16 L750.24 624.08 L745.19 625.89 L740.13 627.47 L735.08 628.92 L730.03 630.3 L724.98 631.63 L719.93 632.9 L714.88 634.13 L709.83 635.31 L704.78 636.47 L699.73 637.59 L694.68 638.69 L689.63 639.78 L684.58 640.85 L679.53 641.92 L674.48 643 L669.43 644.08 L664.38 645.18 L659.33 646.3 L654.28 647.41 L649.22 648.52 L644.17 649.63 L639.12 650.73 L634.07 651.82 L629.02 652.9 L623.97 653.97 L618.92 655.03 L613.87 656.06 L608.82 657.09 L603.77 658.08 L598.72 659.06 L593.67 660.01 L588.62 660.94 L583.57 661.83 L578.52 662.66 L573.47 663.45 L568.42 664.21 L563.37 664.98 L558.31 665.77 L553.26 666.59 L548.21 667.49 L543.16 668.5 L538.11 669.36 L533.06 670.14 L528.01 670.9 L522.96 671.63 L517.91 672.34 L512.86 673.02 L507.81 673.68 L502.76 674.31 L497.71 674.92 L492.66 675.51 L487.61 676.07 L482.56 676.61 L477.51 677.13 L472.46 677.62 L467.4 678.09 L462.35 678.54 L457.3 678.97 L452.25 679.39 L447.2 679.78 L442.15 680.14 L437.1 680.49 L432.05 680.81 L427 681.55 L427 681.55 L421.83 681.55 L416.66 681.56 L411.49 681.56 L406.32 681.57 L401.15 681.59 L395.99 681.6 L390.82 681.62 L385.65 681.64 L380.48 681.66 L375.31 681.68 L370.14 681.71 L364.97 681.74 L359.8 681.77 L354.63 681.81 L349.46 681.84 L344.29 681.88 L339.13 681.93 L333.96 681.97 L328.79 682.02 L323.62 682.07 L318.45 682.12 L313.28 682.17 L308.11 682.23 L302.94 682.29 L297.77 682.35 L292.6 682.42 L287.43 682.49 L282.27 682.56 L277.1 682.63 L271.93 682.7 L266.76 682.78 L261.59 682.86 L256.42 682.94 L251.25 683.03 L246.08 683.12 L240.91 683.21 L235.74 683.3 L230.57 683.4 L225.41 683.5 L220.24 683.6 L215.07 683.7 L209.9 683.81 L204.73 683.92 L199.56 684.03 L194.39 684.14 L189.22 684.26 L184.05 684.38 L178.88 684.5 L173.71 684.63 L168.55 684.75 L163.38 684.88 L158.21 685.02 L153.04 685.15 L147.87 685.29 L142.7 685.43 L142.7 685.43 L145.76 684.08 L148.83 682.26 L151.89 680.44 L154.96 678.63 L158.02 676.78 L161.08 674.92 L164.15 673.08 L167.21 671.32 L170.28 669.69 L173.34 668.17 L176.41 666.72 L179.47 665.32 L182.53 663.93 L185.6 662.53 L188.66 661.15 L191.73 659.81 L194.79 658.46 L197.85 657.05 L200.92 655.54 L203.98 653.93 L207.05 652.25 L210.11 650.5 L213.17 648.7 L216.24 646.87 L219.3 644.98 L222.37 642.94 L225.43 640.66 L228.49 638.01 L231.56 635.02 L234.62 631.83 L237.69 628.54 L240.75 625.29 L243.82 622.19 L246.88 619.1 L249.94 616 L253.01 612.94 L256.07 609.97 L259.14 607.14 L262.2 604.71 Z" fill="#d1dce8"/>
<rect x="46" y="670.14" width="912" height="1.2" fill="#ced1d4"/>
<rect x="46" y="648.28" width="912" height="1.2" fill="#ced1d4"/>
<rect x="46" y="626.42" width="912" height="1.2" fill="#ced1d4"/>
<rect x="46" y="604.56" width="912" height="1.2" fill="#ced1d4"/>
<rect x="46" y="582.7" width="912" height="1.2" fill="#ced1d4"/>
<rect x="46" y="560.84" width="912" height="1.2" fill="#ced1d4"/>
<rect x="46" y="538.98" width="912" height="1.2" fill="#ced1d4"/>
<rect x="122.1" y="519" width="1.2" height="172.5" fill="#ced1d4"/>
<rect x="199.4" y="519" width="1.2" height="172.5" fill="#ced1d4"/>
<rect x="276.7" y="519" width="1.2" height="172.5" fill="#ced1d4"/>
<rect x="354" y="519" width="1.2" height="172.5" fill="#ced1d4"/>
<rect x="431.3" y="519" width="1.2" height="172.5" fill="#ced1d4"/>
<rect x="508.6" y="519" width="1.2" height="172.5" fill="#ced1d4"/>
<rect x="585.9" y="519" width="1.2" height="172.5" fill="#ced1d4"/>
<rect x="663.2" y="519" width="1.2" height="172.5" fill="#ced1d4"/>
<rect x="740.5" y="519" width="1.2" height="172.5" fill="#ced1d4"/>
<rect x="817.8" y="519" width="1.2" height="172.5" fill="#ced1d4"/>
<rect x="895.1" y="519" width="1.2" height="172.5" fill="#ced1d4"/>
<rect x="45" y="517.2" width="915" height="1.8" fill="#8a8a8a"/>
<path d="M45 635.89 L50.17 635.2 L55.34 634.51 L60.51 633.81 L65.69 633.11 L70.86 632.4 L76.03 631.68 L81.2 630.97 L86.37 630.25 L91.54 629.52 L96.71 628.79 L101.89 628.06 L107.06 627.33 L112.23 626.59 L117.4 625.85 L122.57 625.11 L127.74 624.36 L132.91 623.61 L138.09 622.86 L143.26 622.11 L148.43 621.36 L153.6 620.6 L158.77 619.85 L163.94 619.09 L169.11 618.33 L174.29 617.57 L179.46 616.81 L184.63 616.05 L189.8 615.29 L194.97 614.53 L200.14 613.77 L205.31 613.01 L210.49 612.25 L215.66 611.49 L220.83 610.73 L226 609.98 L231.17 609.22 L236.34 608.46 L241.51 607.71 L246.69 606.96 L251.86 606.21 L257.03 605.46 L262.2 604.71" fill="none" stroke="#0c4a8b" stroke-width="1" stroke-opacity="0.75"/>
<path d="M45 638.98 L50.17 638.3 L55.35 637.62 L60.52 636.94 L65.69 636.25 L70.87 635.56 L76.04 634.86 L81.21 634.17 L86.39 633.47 L91.56 632.77 L96.73 632.07 L101.9 631.36 L107.08 630.65 L112.25 629.95 L117.42 629.24 L122.6 628.52 L127.77 627.81 L132.94 627.1 L138.12 626.38 L143.29 625.67 L148.46 624.95 L153.64 624.23 L158.81 623.51 L163.98 622.79 L169.16 622.08 L174.33 621.36 L179.5 620.64 L184.68 619.92 L189.85 619.2 L195.02 618.48 L200.2 617.76 L205.37 617.05 L210.54 616.33 L215.71 615.62 L220.89 614.9 L226.06 614.19 L231.23 613.48 L236.41 612.76 L241.58 612.05 L246.75 611.35 L251.93 610.64 L257.1 609.94" fill="none" stroke="#0c4a8b" stroke-width="1" stroke-opacity="0.75"/>
<path d="M45 649.14 L50.23 648.49 L55.46 647.84 L60.69 647.18 L65.92 646.53 L71.15 645.87 L76.38 645.21 L81.61 644.54 L86.84 643.88 L92.07 643.21 L97.3 642.54 L102.53 641.87 L107.75 641.19 L112.98 640.52 L118.21 639.84 L123.44 639.16 L128.67 638.49 L133.9 637.8 L139.13 637.12 L144.36 636.44 L149.59 635.76 L154.82 635.07 L160.05 634.39 L165.28 633.7 L170.51 633.02 L175.74 632.33 L180.97 631.64 L186.2 630.96 L191.43 630.27 L196.66 629.58 L201.89 628.9 L207.12 628.21 L212.35 627.53 L217.58 626.84 L222.81 626.16 L228.03 625.47 L233.26 624.79 L238.49 624.11 L243.72 623.42 L248.95 622.74 L254.18 622.06 L259.41 621.39 L264.64 620.71 L269.87 620.03 L275.1 619.36 L280.33 618.69 L285.56 618.02 L290.79 617.35 L296.02 616.68 L301.25 616.02 L306.48 615.36 L311.71 614.7 L316.94 614.04 L322.17 613.38 L327.4 612.73 L332.63 612.08 L337.86 611.43 L343.08 610.79 L348.31 610.15 L353.54 609.51 L358.77 608.87 L364 608.24 L369.23 607.61 L374.46 606.99 L379.69 606.36 L384.92 605.75 L390.15 605.13 L395.38 604.52 L400.61 603.91 L405.84 603.31 L411.07 602.71 L416.3 602.12 L421.53 601.53 L426.76 600.94 L431.99 600.36 L437.22 599.78 L442.45 599.21 L447.68 598.64 L452.91 598.08 L458.14 597.52 L463.36 596.97 L468.59 596.42 L473.82 595.88 L479.05 595.34 L484.28 594.81 L489.51 594.28 L494.74 593.76 L499.97 593.25 L505.2 592.74 L510.43 592.24 L515.66 591.74 L520.89 591.25 L526.12 590.76 L531.35 590.28 L536.58 589.81 L541.81 589.35 L547.04 588.89 L552.27 588.43 L557.5 587.99 L562.73 587.55 L567.96 587.11 L573.19 586.69 L578.42 586.27 L583.64 585.86 L588.87 585.45 L594.1 585.06 L599.33 584.67 L604.56 584.28 L609.79 583.91 L615.02 583.54 L620.25 583.18 L625.48 582.83 L630.71 582.49 L635.94 582.15 L641.17 581.83 L646.4 581.51 L651.63 581.2 L656.86 580.89 L662.09 580.6 L667.32 580.31 L672.55 580.04 L677.78 579.77 L683.01 579.51 L688.24 579.26 L693.47 579.02 L698.69 578.79 L703.92 578.56 L709.15 578.35 L714.38 578.14 L719.61 577.95 L724.84 577.76 L730.07 577.59 L735.3 577.42 L740.53 577.26 L745.76 577.11 L750.99 576.98 L756.22 576.85 L761.45 576.73 L766.68 576.63 L771.91 576.53 L777.14 576.44 L782.37 576.37 L787.6 576.3 L792.83 576.25 L798.06 576.2 L803.29 576.17 L808.52 576.14 L813.75 576.13 L818.97 576.13 L824.2 576.14 L829.43 576.16 L834.66 576.2 L839.89 576.24 L845.12 576.29 L850.35 576.36 L855.58 576.44 L860.81 576.53 L866.04 576.63 L871.27 576.74 L876.5 576.87" fill="none" stroke="#0c4a8b" stroke-width="1" stroke-opacity="0.75"/>
<path d="M45 652.68 L50.17 652.01 L55.35 651.34 L60.52 650.67 L65.69 650 L70.87 649.33 L76.04 648.66 L81.21 647.99 L86.39 647.32 L91.56 646.64 L96.73 645.97 L101.9 645.3 L107.08 644.63 L112.25 643.96 L117.42 643.28 L122.6 642.61 L127.77 641.94 L132.94 641.27 L138.12 640.6 L143.29 639.93 L148.46 639.26 L153.64 638.59 L158.81 637.92 L163.98 637.25 L169.16 636.59 L174.33 635.92 L179.5 635.25 L184.68 634.59 L189.85 633.93 L195.02 633.26 L200.2 632.6 L205.37 631.94 L210.54 631.28 L215.71 630.62 L220.89 629.97 L226.06 629.31 L231.23 628.66 L236.41 628.01 L241.58 627.36 L246.75 626.71 L251.93 626.06 L257.1 625.42" fill="none" stroke="#0c4a8b" stroke-width="1" stroke-opacity="0.75"/>
<path d="M45 681.48 L50.37 681.27 L55.73 681.07 L61.1 680.87 L66.47 680.67 L71.83 680.47 L77.2 680.27 L82.57 680.08 L87.93 679.89 L93.3 679.71 L98.67 679.53 L104.03 679.34 L109.4 679.17 L114.77 678.99 L120.13 678.82 L125.5 678.65 L130.87 678.48 L136.23 678.32 L141.6 678.16" fill="none" stroke="#0c4a8b" stroke-width="1" stroke-opacity="0.75"/>
<path d="M45 688.61 L51.47 688.37 L57.95 688.13 L64.42 687.9 L70.9 687.67 L77.37 687.45 L83.85 687.23 L90.32 687.01 L96.8 686.8 L103.27 686.6 L109.75 686.39 L116.22 686.2 L122.69 686 L129.17 685.81 L135.64 685.63 L142.12 685.45 L148.59 685.27 L155.07 685.1 L161.54 684.93 L168.02 684.77 L174.49 684.61 L180.97 684.45 L187.44 684.3 L193.92 684.15 L200.39 684.01 L206.86 683.87 L213.34 683.74 L219.81 683.61 L226.29 683.48 L232.76 683.36 L239.24 683.24 L245.71 683.12 L252.19 683.01 L258.66 682.91 L265.14 682.81 L271.61 682.71 L278.08 682.61 L284.56 682.52 L291.03 682.44 L297.51 682.36 L303.98 682.28 L310.46 682.21 L316.93 682.14 L323.41 682.07 L329.88 682.01 L336.36 681.95 L342.83 681.9 L349.31 681.85 L355.78 681.8 L362.25 681.76 L368.73 681.72 L375.2 681.68 L381.68 681.65 L388.15 681.63 L394.63 681.6 L401.1 681.59 L407.58 681.57 L414.05 681.56 L420.53 681.55 L427 681.55" fill="none" stroke="#0c4a8b" stroke-width="1" stroke-opacity="0.75"/>
<path d="M262.2 604.71 L267.28 603.98 L272.35 603.25 L277.43 602.52 L282.51 601.8 L287.58 601.08 L292.66 600.36 L297.74 599.64 L302.81 598.93 L307.89 598.21 L312.97 597.51 L318.05 596.8 L323.12 596.1 L328.2 595.4 L333.28 594.71 L338.35 594.02 L343.43 593.33 L348.51 592.65 L353.58 591.97 L358.66 591.3 L363.74 590.63 L368.81 589.96 L373.89 589.3 L378.97 588.65 L384.04 588 L389.12 587.35 L394.2 586.71 L399.28 586.07 L404.35 585.44 L409.43 584.81 L414.51 584.19 L419.58 583.58 L424.66 582.97 L429.74 582.36 L434.81 581.76 L439.89 581.17 L444.97 580.58 L450.04 580 L455.12 579.43 L460.2 578.86 L465.27 578.29 L470.35 577.74 L475.43 577.19 L480.5 576.64 L485.58 576.1 L490.66 575.57 L495.74 575.05 L500.81 574.53 L505.89 574.02 L510.97 573.51 L516.04 573.01 L521.12 572.52 L526.2 572.04 L531.27 571.56 L536.35 571.09 L541.43 570.63 L546.5 570.17 L551.58 569.72 L556.66 569.28 L561.73 568.85 L566.81 568.42 L571.89 568 L576.97 567.59 L582.04 567.19 L587.12 566.79 L592.2 566.4 L597.27 566.02 L602.35 565.65 L607.43 565.28 L612.5 564.92 L617.58 564.57 L622.66 564.23 L627.73 563.89 L632.81 563.56 L637.89 563.24 L642.96 562.93 L648.04 562.63 L653.12 562.33 L658.2 562.04 L663.27 561.76 L668.35 561.49 L673.43 561.23 L678.5 560.97 L683.58 560.72 L688.66 560.48 L693.73 560.25 L698.81 560.03 L703.89 559.81 L708.96 559.6 L714.04 559.4 L719.12 559.21 L724.19 559.02 L729.27 558.85 L734.35 558.68 L739.42 558.52 L744.5 558.37 L749.58 558.22 L754.66 558.09 L759.73 557.96 L764.81 557.84 L769.89 557.73 L774.96 557.62 L780.04 557.53 L785.12 557.44 L790.19 557.36 L795.27 557.28 L800.35 557.22 L805.42 557.16 L810.5 557.11 L815.58 557.07 L820.65 557.04 L825.73 557.01 L830.81 556.99 L835.89 556.98 L840.96 556.98 L846.04 556.98 L851.12 556.99 L856.19 557.01 L861.27 557.04 L866.35 557.07 L871.42 557.11 L876.5 557.16" fill="none" stroke="#0c4a8b" stroke-width="2.2" stroke-linecap="round"/>
<path d="M257.1 609.94 L262.15 609.25 L267.2 608.57 L272.25 607.89 L277.31 607.21 L282.36 606.53 L287.41 605.85 L292.46 605.18 L297.51 604.51 L302.56 603.84 L307.61 603.18 L312.66 602.52 L317.72 601.86 L322.77 601.2 L327.82 600.55 L332.87 599.9 L337.92 599.26 L342.97 598.62 L348.02 597.98 L353.07 597.34 L358.13 596.71 L363.18 596.08 L368.23 595.46 L373.28 594.84 L378.33 594.23 L383.38 593.62 L388.43 593.01 L393.48 592.41 L398.54 591.81 L403.59 591.22 L408.64 590.63 L413.69 590.04 L418.74 589.47 L423.79 588.89 L428.84 588.32 L433.89 587.76 L438.95 587.2 L444 586.65 L449.05 586.1 L454.1 585.56 L459.15 585.02 L464.2 584.49 L469.25 583.96 L474.3 583.44 L479.36 582.93 L484.41 582.42 L489.46 581.92 L494.51 581.42 L499.56 580.93 L504.61 580.45 L509.66 579.97 L514.71 579.5 L519.77 579.04 L524.82 578.58 L529.87 578.13 L534.92 577.68 L539.97 577.24 L545.02 576.81 L550.07 576.39 L555.12 575.97 L560.18 575.56 L565.23 575.15 L570.28 574.76 L575.33 574.37 L580.38 573.98 L585.43 573.61 L590.48 573.24 L595.53 572.88 L600.59 572.53 L605.64 572.18 L610.69 571.84 L615.74 571.51 L620.79 571.19 L625.84 570.88 L630.89 570.57 L635.94 570.27 L641 569.98 L646.05 569.7 L651.1 569.42 L656.15 569.16 L661.2 568.9 L666.25 568.65 L671.3 568.4 L676.35 568.17 L681.41 567.95 L686.46 567.73 L691.51 567.52 L696.56 567.32 L701.61 567.13 L706.66 566.94 L711.71 566.77 L716.76 566.6 L721.82 566.45 L726.87 566.3 L731.92 566.16 L736.97 566.03 L742.02 565.91 L747.07 565.79 L752.12 565.69 L757.17 565.6 L762.23 565.51 L767.28 565.43 L772.33 565.36 L777.38 565.31 L782.43 565.26 L787.48 565.22 L792.53 565.19 L797.58 565.16 L802.64 565.15 L807.69 565.15 L812.74 565.16 L817.79 565.17 L822.84 565.2 L827.89 565.23 L832.94 565.28 L837.99 565.33 L843.05 565.39 L848.1 565.47 L853.15 565.55 L858.2 565.64" fill="none" stroke="#0c4a8b" stroke-width="3.4" stroke-linecap="round"/>
<path d="M257.1 625.42 L262.15 624.79 L267.2 624.16 L272.25 623.54 L277.31 622.92 L282.36 622.3 L287.41 621.68 L292.46 621.06 L297.51 620.45 L302.56 619.84 L307.61 619.23 L312.66 618.62 L317.72 618.02 L322.77 617.42 L327.82 616.82 L332.87 616.23 L337.92 615.63 L342.97 615.04 L348.02 614.46 L353.07 613.87 L358.13 613.29 L363.18 612.71 L368.23 612.14 L373.28 611.57 L378.33 611 L383.38 610.43 L388.43 609.87 L393.48 609.32 L398.54 608.76 L403.59 608.21 L408.64 607.67 L413.69 607.12 L418.74 606.58 L423.79 606.05 L428.84 605.52 L433.89 604.99 L438.95 604.47 L444 603.95 L449.05 603.44 L454.1 602.93 L459.15 602.43 L464.2 601.93 L469.25 601.43 L474.3 600.94 L479.36 600.45 L484.41 599.97 L489.46 599.5 L494.51 599.03 L499.56 598.56 L504.61 598.1 L509.66 597.64 L514.71 597.19 L519.77 596.75 L524.82 596.31 L529.87 595.88 L534.92 595.45 L539.97 595.03 L545.02 594.61 L550.07 594.2 L555.12 593.8 L560.18 593.4 L565.23 593.01 L570.28 592.62 L575.33 592.24 L580.38 591.87 L585.43 591.5 L590.48 591.14 L595.53 590.79 L600.59 590.44 L605.64 590.1 L610.69 589.77 L615.74 589.44 L620.79 589.12 L625.84 588.81 L630.89 588.5 L635.94 588.21 L641 587.92 L646.05 587.63 L651.1 587.36 L656.15 587.09 L661.2 586.83 L666.25 586.58 L671.3 586.34 L676.35 586.1 L681.41 585.87 L686.46 585.65 L691.51 585.44 L696.56 585.24 L701.61 585.04 L706.66 584.86 L711.71 584.68 L716.76 584.51 L721.82 584.35 L726.87 584.2 L731.92 584.06 L736.97 583.93 L742.02 583.8 L747.07 583.69 L752.12 583.58 L757.17 583.49 L762.23 583.4 L767.28 583.32 L772.33 583.26 L777.38 583.2 L782.43 583.15 L787.48 583.11 L792.53 583.09 L797.58 583.07 L802.64 583.06 L807.69 583.07 L812.74 583.08 L817.79 583.1 L822.84 583.14 L827.89 583.19 L832.94 583.24 L837.99 583.31 L843.05 583.39 L848.1 583.48 L853.15 583.58 L858.2 583.69" fill="none" stroke="#0c4a8b" stroke-width="2.2" stroke-linecap="round"/>
<path d="M140.6 678.19 L145.71 678.04 L150.83 677.89 L155.94 677.74 L161.06 677.6 L166.17 677.46 L171.29 677.32 L176.4 677.18 L181.51 677.05 L186.63 676.92 L191.74 676.79 L196.86 676.67 L201.97 676.54 L207.09 676.42 L212.2 676.3 L217.31 676.19 L222.43 676.07 L227.54 675.96 L232.66 675.85 L237.77 675.75 L242.89 675.65 L248 675.55 L253.11 675.45 L258.23 675.35 L263.34 675.26 L268.46 675.17 L273.57 675.08 L278.69 674.99 L283.8 674.91 L288.91 674.83 L294.03 674.75 L299.14 674.68 L304.26 674.6 L309.37 674.53 L314.49 674.47 L319.6 674.4 L324.71 674.34 L329.83 674.28 L334.94 674.22 L340.06 674.17 L345.17 674.11 L350.29 674.06 L355.4 674.02 L360.51 673.97 L365.63 673.93 L370.74 673.89 L375.86 673.85 L380.97 673.82 L386.09 673.78 L391.2 673.75 L396.31 673.73 L401.43 673.7 L406.54 673.68 L411.66 673.66 L416.77 673.64 L421.89 673.63 L427 673.61" fill="none" stroke="#0c4a8b" stroke-width="2.2" stroke-linecap="round"/>
<path d="M45 688.7 L50.37 688.71 L55.73 688.71 L61.1 688.72 L66.47 688.72 L71.83 688.72 L77.2 688.72 L82.57 688.72 L87.93 688.72 L93.3 688.71 L98.67 688.71 L104.03 688.71 L109.4 688.71 L114.77 688.7 L120.13 688.7 L125.5 688.7 L130.87 688.7 L136.23 688.7 L141.6 688.7" fill="none" stroke="#000" stroke-width="1" stroke-opacity="0.45"/>
<path d="M142.9 688.7 L148.07 688.7 L153.23 688.7 L158.4 688.7 L163.56 688.7 L168.73 688.71 L173.89 688.71 L179.06 688.71 L184.22 688.71 L189.39 688.72 L194.55 688.72 L199.72 688.72 L204.89 688.72 L210.05 688.72 L215.22 688.72 L220.38 688.72 L225.55 688.71 L230.71 688.71 L235.88 688.7 L241.04 688.69 L246.21 688.67 L251.37 688.65 L256.54 688.63 L261.71 688.61 L266.87 688.58 L272.04 688.55 L277.2 688.51 L282.37 688.46 L287.53 688.41 L292.7 688.35 L297.86 688.29 L303.03 688.21 L308.19 688.13 L313.36 688.04 L318.53 687.94 L323.69 687.83 L328.86 687.71 L334.02 687.58 L339.19 687.43 L344.35 687.27 L349.52 687.1 L354.68 686.92 L359.85 686.72 L365.01 686.5 L370.18 686.27 L375.35 686.02 L380.51 685.76 L385.68 685.47 L390.84 685.16 L396.01 684.84 L401.17 684.49 L406.34 684.12 L411.5 683.73 L416.67 683.32 L421.83 682.88 L427 682.41" fill="none" stroke="#000" stroke-width="2.2" stroke-linecap="round"/>
<path d="M45 674.98 L47.43 674.98 L49.86 674.97 L52.29 674.97 L54.71 674.97 L57.14 674.97 L59.57 674.96 L62 674.96" fill="none" stroke="#000" stroke-width="2" />
<path d="M62 674.96 L67.67 674.96 L73.33 674.96 L79 674.96 L84.67 674.96 L90.33 674.97 L96 674.97 L101.67 674.98 L107.33 674.98 L113 674.99" fill="none" stroke="#000" stroke-width="1.5" stroke-opacity="0.85"/>
<path d="M113 674.99 L118.33 674.99 L123.67 675 L129 675.01 L134.33 675.01 L139.67 675.02 L145 675.03 L150.33 675.04 L155.67 675.05 L161 675.05 L166.33 675.06 L171.67 675.07 L177 675.07 L182.33 675.08 L187.67 675.09 L193 675.09 L198.33 675.1 L203.67 675.1 L209 675.11 L214.33 675.11 L219.67 675.11 L225 675.12 L230.33 675.12 L235.67 675.12 L241 675.12 L246.33 675.12 L251.67 675.12 L257 675.11" fill="none" stroke="#000" stroke-width="1.3" stroke-opacity="0.6"/>
<path d="M257 675.11 L262.05 675.11 L267.1 675.11 L272.16 675.1 L277.21 675.1 L282.26 675.09 L287.31 675.08 L292.36 675.07 L297.42 675.06 L302.47 675.05 L307.52 675.04 L312.57 675.02 L317.63 675.01 L322.68 674.99 L327.73 674.98 L332.78 674.96 L337.83 674.94 L342.89 674.91 L347.94 674.89 L352.99 674.87 L358.04 674.84 L363.09 674.81 L368.15 674.79 L373.2 674.75 L378.25 674.72 L383.3 674.69 L388.35 674.65 L393.41 674.61 L398.46 674.57 L403.51 674.53 L408.56 674.49 L413.62 674.44 L418.67 674.39 L423.72 674.34 L428.77 674.29 L433.82 674.24 L438.88 674.18 L443.93 674.12 L448.98 674.06 L454.03 673.99 L459.08 673.92 L464.14 673.85 L469.19 673.78 L474.24 673.7 L479.29 673.62 L484.34 673.54 L489.4 673.45 L494.45 673.36 L499.5 673.27 L504.55 673.17 L509.61 673.07 L514.66 672.97 L519.71 672.86 L524.76 672.75 L529.81 672.63 L534.87 672.51 L539.92 672.38 L544.97 672.25 L550.02 672.11 L555.07 671.97 L560.13 671.83 L565.18 671.67 L570.23 671.52 L575.28 671.35 L580.33 671.19 L585.39 671.01 L590.44 670.83 L595.49 670.64 L600.54 670.45 L605.59 670.25 L610.65 670.04 L615.7 669.83 L620.75 669.6 L625.8 669.37 L630.86 669.13 L635.91 668.89 L640.96 668.63 L646.01 668.37 L651.06 668.1 L656.12 667.82 L661.17 667.52 L666.22 667.22 L671.27 666.91 L676.32 666.59 L681.38 666.26 L686.43 665.92 L691.48 665.56 L696.53 665.2 L701.58 664.82 L706.64 664.43 L711.69 664.03 L716.74 663.61 L721.79 663.19 L726.85 662.75 L731.9 662.29 L736.95 661.82 L742 661.34 L747.05 660.84 L752.11 660.32 L757.16 659.79 L762.21 659.25 L767.26 658.69 L772.31 658.11 L777.37 657.51 L782.42 656.89 L787.47 656.26 L792.52 655.61 L797.57 654.94 L802.63 654.24 L807.68 653.53 L812.73 652.8 L817.78 652.05 L822.84 651.27 L827.89 650.47 L832.94 649.65 L837.99 648.81 L843.04 647.94 L848.1 647.05 L853.15 646.14 L858.2 645.19" fill="none" stroke="#000" stroke-width="3.4" stroke-linecap="round"/>
<path d="M858.2 645.19 L860.81 644.7 L863.43 644.19 L866.04 643.68 L868.66 643.16 L871.27 642.64 L873.89 642.1 L876.5 641.56" fill="none" stroke="#000" stroke-width="1.5" />
<rect x="44.6" y="517.2" width="1.7" height="176" fill="#000"/>
<rect x="958" y="517.2" width="2.1" height="176.3" fill="#000"/>
<rect x="44.6" y="691.7" width="915.5" height="1.6" fill="#000"/>
<rect x="38" y="691.75" width="7" height="1.7" fill="#000"/>
<rect x="960" y="691.75" width="6.9" height="1.7" fill="#000"/>
<rect x="38" y="669.89" width="7" height="1.7" fill="#000"/>
<rect x="960" y="669.89" width="6.9" height="1.7" fill="#000"/>
<rect x="38" y="648.03" width="7" height="1.7" fill="#000"/>
<rect x="960" y="648.03" width="6.9" height="1.7" fill="#000"/>
<rect x="38" y="626.17" width="7" height="1.7" fill="#000"/>
<rect x="960" y="626.17" width="6.9" height="1.7" fill="#000"/>
<rect x="38" y="604.31" width="7" height="1.7" fill="#000"/>
<rect x="960" y="604.31" width="6.9" height="1.7" fill="#000"/>
<rect x="38" y="582.45" width="7" height="1.7" fill="#000"/>
<rect x="960" y="582.45" width="6.9" height="1.7" fill="#000"/>
<rect x="38" y="560.59" width="7" height="1.7" fill="#000"/>
<rect x="960" y="560.59" width="6.9" height="1.7" fill="#000"/>
<rect x="38" y="538.73" width="7" height="1.7" fill="#000"/>
<rect x="960" y="538.73" width="6.9" height="1.7" fill="#000"/>
<circle cx="586.5" cy="573.9" r="6" fill="#ff0000"/>
<circle cx="586.5" cy="591.5" r="6" fill="#ff0000"/>
<circle cx="586.5" cy="670.9" r="6" fill="#ff0000"/>
<text x="32" y="395.2" text-anchor="end" fill="#000" font-size="16">0</text>
<text x="32" y="356.2" text-anchor="end" fill="#000" font-size="16">5</text>
<text x="32" y="317.2" text-anchor="end" fill="#000" font-size="16">10</text>
<text x="32" y="278.2" text-anchor="end" fill="#000" font-size="16">15</text>
<text x="32" y="239.2" text-anchor="end" fill="#000" font-size="16">20</text>
<text x="32" y="200.2" text-anchor="end" fill="#000" font-size="16">25</text>
<text x="32" y="161.2" text-anchor="end" fill="#000" font-size="16">30</text>
<text x="32" y="122.2" text-anchor="end" fill="#000" font-size="16">35</text>
<text x="32" y="83.2" text-anchor="end" fill="#000" font-size="16">40</text>
<text x="971.6" y="395.2" text-anchor="start" fill="#000" font-size="16">0</text>
<text x="971.6" y="356.2" text-anchor="start" fill="#000" font-size="16">20</text>
<text x="971.6" y="317.2" text-anchor="start" fill="#000" font-size="16">40</text>
<text x="971.6" y="278.2" text-anchor="start" fill="#000" font-size="16">60</text>
<text x="971.6" y="239.2" text-anchor="start" fill="#000" font-size="16">80</text>
<text x="971.6" y="200.2" text-anchor="start" fill="#000" font-size="16">100</text>
<text x="24.6" y="14.8" text-anchor="middle" fill="#000" font-size="16">H</text>
<text x="24.4" y="34.6" text-anchor="middle" fill="#000" font-size="16">[m]</text>
<text x="970.2" y="14.9" text-anchor="start" fill="#000" font-size="16" letter-spacing="0.15">eta</text>
<text x="969.5" y="35" text-anchor="start" fill="#000" font-size="16" letter-spacing="0.25">[%]</text>
<text x="45.1" y="412.8" text-anchor="middle" font-size="16">0</text>
<text x="122.4" y="412.8" text-anchor="middle" font-size="16" letter-spacing="0.3">0.5</text>
<text x="199.7" y="412.8" text-anchor="middle" font-size="16" letter-spacing="0.3">1.0</text>
<text x="277" y="412.8" text-anchor="middle" font-size="16" letter-spacing="0.3">1.5</text>
<text x="354.3" y="412.8" text-anchor="middle" font-size="16" letter-spacing="0.3">2.0</text>
<text x="431.6" y="412.8" text-anchor="middle" font-size="16" letter-spacing="0.3">2.5</text>
<text x="508.9" y="412.8" text-anchor="middle" font-size="16" letter-spacing="0.3">3.0</text>
<text x="586.2" y="412.8" text-anchor="middle" font-size="16" letter-spacing="0.3">3.5</text>
<text x="663.5" y="412.8" text-anchor="middle" font-size="16" letter-spacing="0.3">4.0</text>
<text x="740.8" y="412.8" text-anchor="middle" font-size="16" letter-spacing="0.3">4.5</text>
<text x="818.1" y="412.8" text-anchor="middle" font-size="16" letter-spacing="0.3">5.0</text>
<text x="888.6" y="413.2" text-anchor="start" fill="#000" font-size="16" letter-spacing="0.54">Q [m³/h]</text>
<text x="81.2" y="89.5" text-anchor="start" fill="#000" font-size="16" letter-spacing="0.2">100 %</text>
<text x="80.5" y="102.3" text-anchor="start" fill="#000" font-size="16" letter-spacing="0.2">98 %</text>
<text x="66.6" y="324.9" text-anchor="start" fill="#000" font-size="16" letter-spacing="0.15">45 %</text>
<text x="811.4" y="19" text-anchor="start" fill="#000" font-size="16" letter-spacing="0.4">CRE 3-4, 3*460 V</text>
<text x="48.8" y="438.9" text-anchor="start" fill="#000" font-size="16" letter-spacing="0.43">Q = 3.5 m³/h</text>
<text x="48.8" y="460.6" text-anchor="start" fill="#000" font-size="16" letter-spacing="0.38">n = 98 % / 3412 rpm</text>
<text x="48.4" y="482.1" text-anchor="start" fill="#000" font-size="16" letter-spacing="0.42">Liquid temperature during operation = 20 °C</text>
<text x="48.4" y="503.7" text-anchor="start" fill="#000" font-size="16" letter-spacing="0.29">Eta pump = 56.7 %</text>
<text x="433.4" y="438.9" text-anchor="start" fill="#000" font-size="16" letter-spacing="0.31">H = 27.6 m</text>
<text x="433.4" y="460.6" text-anchor="start" fill="#000" font-size="16" letter-spacing="0.39">Pumped liquid = Water</text>
<text x="433.4" y="482.1" text-anchor="start" fill="#000" font-size="16" letter-spacing="0.5">Density = 998.2 kg/m³</text>
<text x="433.4" y="503.7" text-anchor="start" fill="#000" font-size="16" letter-spacing="0.42">Eta pump+motor+freq.converter = 48.3 %</text>
<text x="32.3" y="697.5" text-anchor="end" fill="#000" font-size="16">0</text>
<text x="971.6" y="697.5" text-anchor="start" fill="#000" font-size="16">0</text>
<text x="32.3" y="675.64" text-anchor="end" fill="#000" font-size="16">100</text>
<text x="971.6" y="675.64" text-anchor="start" fill="#000" font-size="16">2</text>
<text x="32.3" y="653.78" text-anchor="end" fill="#000" font-size="16">200</text>
<text x="971.6" y="653.78" text-anchor="start" fill="#000" font-size="16">4</text>
<text x="32.3" y="631.92" text-anchor="end" fill="#000" font-size="16">300</text>
<text x="971.6" y="631.92" text-anchor="start" fill="#000" font-size="16">6</text>
<text x="32.3" y="610.06" text-anchor="end" fill="#000" font-size="16">400</text>
<text x="971.6" y="610.06" text-anchor="start" fill="#000" font-size="16">8</text>
<text x="32.3" y="588.2" text-anchor="end" fill="#000" font-size="16">500</text>
<text x="971.6" y="588.2" text-anchor="start" fill="#000" font-size="16">10</text>
<text x="21.7" y="532.5" text-anchor="middle" fill="#000" font-size="16">P</text>
<text x="9.6" y="552.5" text-anchor="start" fill="#000" font-size="16" letter-spacing="0.5">[W]</text>
<text x="990.8" y="533" text-anchor="middle" fill="#000" font-size="16">NPSH</text>
<text x="990.4" y="552.8" text-anchor="middle" fill="#000" font-size="16">[m]</text>
<text x="667.7" y="551" text-anchor="start" fill="#1f5a99" font-size="16" letter-spacing="0.54">P1 (motor+freq.converter)</text>
<text x="850.8" y="592.8" text-anchor="start" fill="#1f5a99" font-size="16" letter-spacing="0.55">P2</text>
<text x="47.8" y="718.6" text-anchor="start" fill="#000" font-size="16" letter-spacing="0.47">P1 (motor+freq.converter) = 544.2 W</text>
<text x="47.8" y="740.1" text-anchor="start" fill="#000" font-size="16" letter-spacing="0.37">P2 = 463.5 W</text>
<text x="47.8" y="761.9" text-anchor="start" fill="#000" font-size="16" letter-spacing="0.47">NPSH = 1.97 m</text>
</svg>
</body></html>
